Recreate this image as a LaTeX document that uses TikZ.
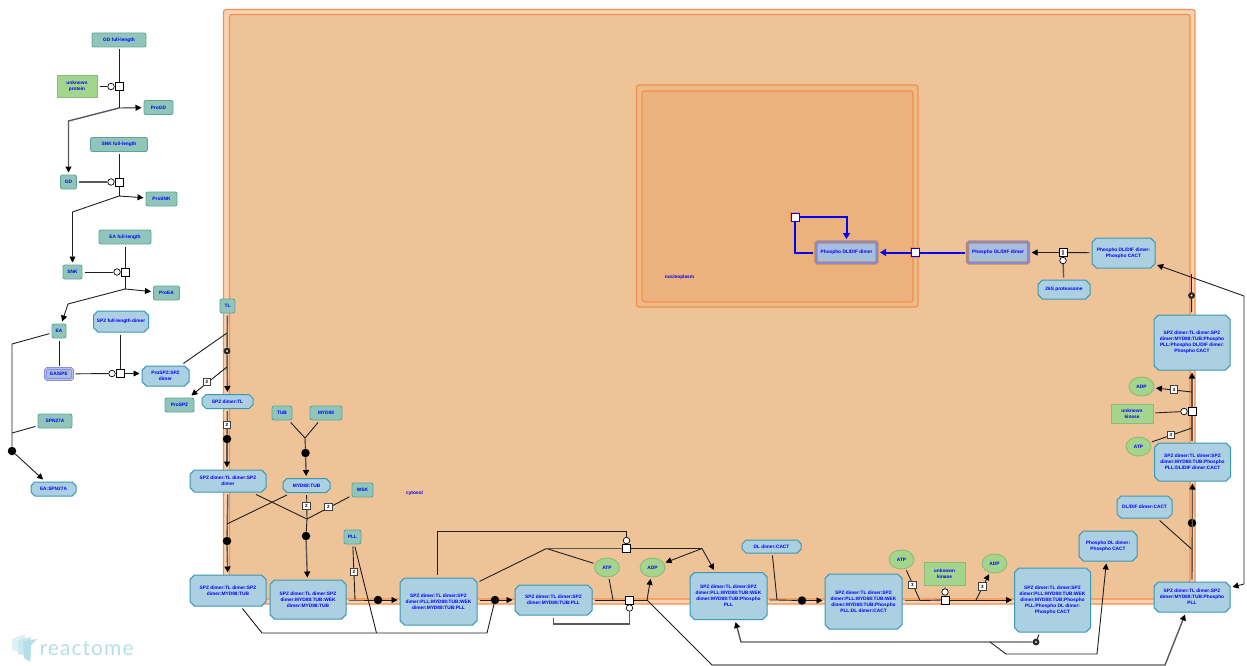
\documentclass[tikz,border=0pt]{standalone}
\usepackage{xcolor}
\usepackage{fontspec}
\setmainfont{Liberation Sans}
\newfontfamily\logofont[LetterSpace=5]{Lato}
\usetikzlibrary{arrows.meta,positioning,shapes.misc,shapes.geometric}

\definecolor{cellring}{HTML}{F5D3B3}
\definecolor{cellfill}{HTML}{EFC398}
\definecolor{nucfill}{HTML}{EBB27D}
\definecolor{compline}{HTML}{F88E4B}
\definecolor{protfill}{HTML}{8FC6B9}
\definecolor{protline}{HTML}{5FA498}
\definecolor{cplxfill}{HTML}{ABD0E2}
\definecolor{cplxline}{HTML}{3C97B2}
\definecolor{leaffill}{HTML}{A3D58D}
\definecolor{leafline}{HTML}{8DB97C}
\definecolor{setfill}{HTML}{A6BFDC}
\definecolor{setline}{HTML}{8488DE}
\definecolor{hiline}{HTML}{C98A45}
\definecolor{logoblue}{HTML}{B5DEEA}

\tikzset{
	every node/.style={font=\bfseries\fontsize{4.8}{6}\selectfont, text=blue, align=center, inner sep=0pt},
	prot/.style={draw=protline, fill=protfill, line width=0.9pt, rounded corners=2pt, outer sep=2.5pt},
	cplx/.style={chamfered rectangle, chamfered rectangle xsep=2.2pt, chamfered rectangle ysep=2.2pt, draw=cplxline, fill=cplxfill, line width=1pt, outer sep=2.5pt},
	leaf/.style={draw=leafline, fill=leaffill, line width=0.9pt, outer sep=2.5pt},
	mol/.style={ellipse, draw=leafline, fill=leaffill, line width=0.9pt, minimum width=25pt, minimum height=19pt, outer sep=2pt},
	setbox/.style={rounded corners=1.5pt, draw=setline, fill=setfill, line width=0.8pt, double=setline!55!white, double distance=1.1pt, outer sep=3pt},
	hiset/.style={setbox, draw=hiline, line width=0.8pt, double=setline, double distance=1.6pt},
	rxn/.style={rectangle, draw=black, fill=white, line width=0.8pt, minimum size=8pt},
	hirxn/.style={rectangle, draw=blue, fill=white, line width=1pt, minimum size=8pt, preaction={draw=compline, line width=2.6pt}},
	cat/.style={circle, draw=black, fill=white, line width=0.7pt, minimum size=6.5pt},
	ring/.style={circle, draw=black!85, fill=white, line width=2.2pt, minimum size=4.5pt},
	dot/.style={circle, fill=black, minimum size=8.5pt},
	stoich/.style={draw=black!75, fill=white, line width=0.8pt, minimum size=7.5pt, text=black, font=\bfseries\fontsize{4.6}{5}\selectfont},
	comp/.style={rounded corners=2.5pt, draw=compline, line width=1.2pt},
	conn/.style={draw=black!88, line width=0.9pt},
	arr/.style={conn, -{Triangle[length=6pt,width=6pt,color=black]}},
	thk/.style={draw=black!65, line width=1.4pt},
	hiconn/.style={draw=blue, line width=2pt},
	hiarr/.style={hiconn, -{Triangle[length=6pt,width=7pt]}},
}

\begin{document}
\begin{tikzpicture}[x=1pt,y=-1pt]
	\useasboundingbox (0,0) rectangle (1247,666);

	% compartments
	\draw[comp, fill=cellring] (223.5,9.5) rectangle (1195,604);
	\draw[comp, fill=cellfill] (229.5,14.5) rectangle (1190,599);
	\draw[comp, fill=nucfill!50!cellfill] (636.5,85) rectangle (918,307);
	\draw[comp, fill=nucfill] (642,91) rectangle (913,302);
	\node (cyt) at (414.5,493) {cytosol};
	\node (nuc) at (679.5,277) {nucleoplasm};

	% extracellular side
	\node[prot, minimum width=54pt, minimum height=14pt] (gdf) at (119,40) {GD full-length};
	\node[leaf, minimum width=40pt, minimum height=22pt] (unkp) at (77,86.5) {unknown\\protein};
	\node[rxn] (r1) at (119,86.5) {};
	\node[cat, left=0pt of r1] (c1) {};
	\node[prot, minimum width=29pt, minimum height=14pt] (progd) at (158.5,107.5) {ProGD};
	\node[prot, minimum width=57pt, minimum height=14pt] (snkf) at (119,144.5) {SNK full-length};
	\node[prot, minimum width=16pt, minimum height=14pt] (gd) at (68.5,182) {GD};
	\node[rxn] (r2) at (119,182) {};
	\node[cat, left=0pt of r2] (c2) {};
	\node[prot, minimum width=31pt, minimum height=14pt] (prosnk) at (161.5,199) {ProSNK};
	\node[prot, minimum width=52pt, minimum height=14pt] (eaf) at (125,237) {EA full-length};
	\node[prot, minimum width=19pt, minimum height=14pt] (snk) at (72.5,272) {SNK};
	\node[rxn] (r3) at (125,272) {};
	\node[cat, left=0pt of r3] (c3) {};
	\node[prot, minimum width=26pt, minimum height=14pt] (proea) at (166.5,293) {ProEA};
	\node[prot, minimum width=14pt, minimum height=14pt] (ea) at (59,331) {EA};
	\node[cplx, minimum width=55pt, minimum height=21pt] (spzf) at (121,321.5) {SPZ full-length dimer};
	\node[setbox, minimum width=27pt, minimum height=11pt] (easpe) at (59,374) {EA/SPE};
	\node[rxn] (r4) at (120,373.5) {};
	\node[cat, left=0pt of r4] (c4) {};
	\node[cplx, minimum width=47pt, minimum height=20pt] (prospz) at (165.5,376) {ProSPZ:SPZ\\dimer};
	\node[prot, minimum width=29pt, minimum height=14pt] (pspz) at (179.5,405) {ProSPZ};
	\node[prot, minimum width=34pt, minimum height=14pt] (spn) at (55,421) {SPN27A};
	\node[dot] (d1) at (12,451) {};
	\node[cplx, minimum width=45pt, minimum height=14pt] (easpn) at (53.5,489) {EA:SPN27A};

	% receptor complex
	\node[prot, minimum width=15pt, minimum height=14pt] (tl) at (227.5,306) {TL};
	\node[ring] (ct1) at (227,351) {};
	\node[cplx, minimum width=51pt, minimum height=14pt] (stl) at (227.5,401.5) {SPZ dimer:TL};
	\node[dot] (d2) at (227,439) {};
	\node[cplx, minimum width=76pt, minimum height=22pt] (sts) at (228,481) {SPZ dimer:TL dimer:SPZ\\dimer};
	\node[prot, minimum width=20pt, minimum height=14pt] (tub) at (282,413) {TUB};
	\node[prot, minimum width=32pt, minimum height=14pt] (myd) at (326,413) {MYD88};
	\node[dot] (d3) at (305.5,453) {};
	\node[cplx, minimum width=47pt, minimum height=14pt] (mt) at (306.5,485.5) {MYD88:TUB};
	\node[prot, minimum width=21pt, minimum height=14pt] (wsk) at (362.5,490) {WSK};
	\node[dot] (d4) at (227,541) {};
	\node[dot] (d5) at (306,536) {};
	\node[cplx, minimum width=76pt, minimum height=31pt] (stm) at (228,590.5) {SPZ dimer:TL dimer:SPZ\\dimer:MYD88:TUB};
	\node[cplx, minimum width=76pt, minimum height=39pt] (stw) at (308,599.5) {SPZ dimer:TL dimer:SPZ\\dimer:MYD88:TUB:WEK\\dimer:MYD88:TUB};
	\node[prot, minimum width=17pt, minimum height=14pt] (pll) at (352.5,537) {PLL};
	\node[dot] (d6) at (378,600) {};
	\node[cplx, minimum width=77pt, minimum height=47pt] (stp) at (438.5,601.5) {SPZ dimer:TL dimer:SPZ\\dimer:PLL:MYD88:TUB:WEK\\dimer:MYD88:TUB:PLL};
	\node[dot] (d7) at (495,600) {};
	\node[cplx, minimum width=77pt, minimum height=30pt] (smp) at (553.5,600) {SPZ dimer:TL dimer:SPZ\\dimer:MYD88:TUB:PLL};
	\node[rxn] (r5) at (626.5,548.5) {};
	\node[cat, above=0pt of r5] (c5) {};
	\node[mol] (atpa) at (607,567.5) {ATP};
	\node[mol] (adpa) at (652.5,567.5) {ADP};
	\node[rxn] (r6) at (629.5,600) {};
	\node[cat, below=0pt of r6] (c6) {};
	\node[cplx, minimum width=77pt, minimum height=47pt] (spp) at (728.5,596) {SPZ dimer:TL dimer:SPZ\\dimer:PLL:MYD88:TUB:WEK\\dimer:MYD88:TUB:Phospho\\PLL};
	\node[cplx, minimum width=59pt, minimum height=13pt] (dlc) at (771.5,546.5) {DL dimer:CACT};
	\node[dot] (d8) at (802,600.5) {};
	\node[cplx, minimum width=77pt, minimum height=55pt] (spd) at (863.5,601.5) {SPZ dimer:TL dimer:SPZ\\dimer:PLL:MYD88:TUB:WEK\\dimer:MYD88:TUB:Phospho\\PLL:DL dimer:CACT};
	\node[mol] (atpb) at (901.5,559.5) {ATP};
	\node[leaf, minimum width=41pt, minimum height=23pt] (unka) at (944.5,573.5) {unknown\\kinase};
	\node[rxn] (r7) at (945,600) {};
	\node[cat, above=0pt of r7] (c7) {};
	\node[mol] (adpb) at (994.5,563.5) {ADP};
	\node[cplx, minimum width=76pt, minimum height=64pt] (spc) at (1052.5,600) {SPZ dimer:TL dimer:SPZ\\dimer:PLL:MYD88:TUB:WEK\\dimer:MYD88:TUB:Phospho\\PLL:Phospho DL dimer:\\Phospho CACT};
	\node[ring] (ct2) at (1036,642) {};
	\node[cplx, minimum width=58pt, minimum height=30pt] (pdc) at (1108,546) {Phospho DL dimer:\\Phospho CACT};
	\node[cplx, minimum width=55pt, minimum height=22pt] (ddc) at (1144.5,507) {DL/DIF dimer:CACT};
	\node[cplx, minimum width=76pt, minimum height=30pt] (stq) at (1192,597) {SPZ dimer:TL dimer:SPZ\\dimer:MYD88:TUB:Phospho\\PLL};
	\node[dot] (d9) at (1192,523) {};
	\node[cplx, minimum width=76pt, minimum height=38pt] (std) at (1192.5,462) {SPZ dimer:TL dimer:SPZ\\dimer:MYD88:TUB:Phospho\\PLL:DL/DIF dimer:CACT};
	\node[rxn] (r8) at (1192,411.5) {};
	\node[cat, left=0pt of r8] (c8) {};
	\node[leaf, minimum width=42pt, minimum height=19pt] (unkb) at (1132,414) {unknown\\kinase};
	\node[mol] (atpc) at (1138.5,446.5) {ATP};
	\node[mol] (adpc) at (1141.5,386.5) {ADP};
	\node[cplx, minimum width=76pt, minimum height=55pt] (stc) at (1192,342.5) {SPZ dimer:TL dimer:SPZ\\dimer:MYD88:TUB:Phospho\\PLL:Phospho DL/DIF dimer:\\Phospho CACT};
	\node[ring] (ct3) at (1191.5,295.5) {};
	\node[cplx, minimum width=63pt, minimum height=30pt] (ppc) at (1123.5,253) {Phospho DL/DIF dimer:\\Phospho CACT};
	\node[rxn] (r9) at (1063,252.5) {};
	\node[cat, below=0pt of r9] (c9) {};
	\node[cplx, minimum width=52pt, minimum height=19pt] (prot26) at (1064,289.5) {26S proteasome};
	\node[hiset, minimum width=61pt, minimum height=21pt] (pdd) at (998,252.5) {Phospho DL/DIF dimer};
	\node[hirxn] (r10) at (915,252.5) {};
	\node[hiset, minimum width=61pt, minimum height=21pt] (pdn) at (846.5,252.5) {Phospho DL/DIF dimer};
	\node[hirxn] (r11) at (795,217) {};

	% free junctions
	\coordinate (j1) at (119,108);
	\coordinate (j2) at (119,196);
	\coordinate (j3) at (125,289);
	\coordinate (j4) at (12,433);
	\coordinate (j5) at (227,333);
	\coordinate (j6) at (227,367);
	\coordinate (j7) at (227,524);
	\coordinate (j8) at (305,438);
	\coordinate (j9) at (307,519);
	\coordinate (j10) at (355,600);
	\coordinate (j11) at (376.5,633);
	\coordinate (j12) at (546.5,548.5);
	\coordinate (j13) at (702,548.5);
	\coordinate (j14) at (613,600);
	\coordinate (j15) at (647,600);
	\coordinate (j16) at (777,600);
	\coordinate (j17) at (920,600.5);
	\coordinate (j18) at (976,600);
	\coordinate (j19) at (990,642);
	\coordinate (j20) at (1191.5,549);
	\coordinate (j21) at (1192,428);
	\coordinate (j22) at (1192,392);
	\coordinate (j23) at (1191.5,274);
	\coordinate (j24) at (1244,584);

	% first cascade
	\draw[conn] (gdf)--(r1);
	\draw[conn] (unkp)--(c1);
	\draw[conn] (r1)--(j1);
	\draw[arr] (j1)--(progd);
	\draw[arr, thk] (j1)--(68.5,121)--(gd);
	\draw[conn] (snkf)--(r2);
	\draw[conn, thk] (gd)--(c2);
	\draw[conn] (r2)--(j2);
	\draw[arr] (j2)--(prosnk);
	\draw[arr] (j2)--(72.5,212)--(snk);
	\draw[conn] (eaf)--(r3);
	\draw[conn] (snk)--(c3);
	\draw[conn] (r3)--(j3);
	\draw[arr] (j3)--(proea);
	\draw[arr] (j3)--(68,304)--(ea);
	\draw[conn] (ea)--(12,344)--(d1);
	\draw[conn] (spn)--(j4);
	\draw[arr] (d1)--(easpn);
	\draw[conn] (ea)--(easpe);
	\draw[conn] (easpe)--(c4);
	\draw[conn] (spzf.south -| r4)--(r4);
	\draw[arr] (r4)--(prospz.west |- r4);

	% receptor assembly
	\draw[conn, thk] (tl)--(ct1);
	\draw[conn] (prospz)--(j5);
	\draw[arr, thk] (ct1)--(stl);
	\draw[arr] (j6)--(pspz);
	\draw[conn, thk] (stl)--(d2);
	\draw[arr, thk] (d2)--(sts.north -| d2);
	\draw[conn, thk] (sts)--(d4);
	\draw[conn] (mt)--(j7);
	\draw[arr, thk] (d4)--(stm);
	\draw[conn] (tub)--(j8);
	\draw[conn] (myd)--(j8);
	\draw[conn] (j8)--(d3);
	\draw[arr, thk] (d3)--(mt);
	\draw[conn] (mt)--(j9);
	\draw[conn] (sts)--(j9);
	\draw[conn] (wsk)--(j9);
	\draw[conn] (j9)--(d5);
	\draw[arr, thk] (d5)--(stw);
	\draw[conn] (pll)--(j10);
	\draw[conn] (stw.east |- j10)--(j10)--(d6);
	\draw[arr] (d6)--(stp.west |- d6);
	\draw[conn] (pll)--(j11);
	\draw[conn] (stm)--(262,633)--(487,633)--(d7);
	\draw[conn] (stp.east |- d7)--(d7);
	\draw[arr] (d7)--(smp.west |- d7);

	% PLL phosphorylation
	\draw[conn] (437.5,575)--(437.5,531)--(626.5,531)--(c5);
	\draw[conn] (stp)--(j12);
	\draw[conn] (atpa)--(j12);
	\draw[conn, thk] (j12)--(r5);
	\draw[conn] (r5)--(j13);
	\draw[arr] (j13)--(adpa);
	\draw[arr] (j13)--(spp);
	\draw[conn] (smp.east |- r6)--(r6);
	\draw[conn] (atpa)--(j14);
	\draw[conn] (r6)--(j15);
	\draw[arr] (j15)--(adpa);
	\draw[conn, thk] (smp.south)--(553.5,624)--(629.5,624)--(c6);
	\draw[conn] (j15)--(712,665);
	\draw[arr, thk] (712,665)--(1165,665)--(stq);

	% DL dimer and kinase steps
	\draw[conn] (dlc)--(j16);
	\draw[conn] (spp.east |- j16)--(j16)--(d8);
	\draw[arr] (d8)--(spd.west |- d8);
	\draw[conn, thk] (spd.east |- j17)--(j17);
	\draw[conn] (j17)--(r7);
	\draw[conn] (atpb)--(j17);
	\draw[conn] (unka)--(c7);
	\draw[arr] (r7)--(spc.west |- r7);
	\draw[arr] (j18)--(adpb);
	\draw[conn] (spc)--(ct2);
	\draw[arr, thk] (ct2)--(741,642)--(spp);
	\draw[arr] (j19)--(1006,654)--(1097,654)--(pdc);

	% return to the receptor
	\draw[arr, thk] (stq.north -| d9)--(std);
	\draw[conn] (ddc)--(j20);
	\draw[conn, thk] (std.north -| r8)--(r8);
	\draw[arr, thk] (r8)--(stc.south -| r8);
	\draw[conn] (atpc)--(j21);
	\draw[arr] (j22)--(adpc);
	\draw[conn] (unkb)--(c8);
	\draw[conn] (stc)--(ct3);
	\draw[conn] (ct3)--(j23);
	\draw[arr] (j24)--(stq.east |- 0,587);
	\draw[arr] (j24)--(1244,296)--(ppc);

	% proteasome and import
	\draw[conn] (ppc)--(r9);
	\draw[arr] (r9)--(pdd);
	\draw[conn, thk] (prot26)--(c9);
	\draw[hiconn] (pdd)--(r10);
	\draw[hiarr] (r10)--(pdn);
	\draw[hiconn] (pdn.west |- r10)--(795,252.5)--(r11);
	\draw[hiarr] (r11)--(846.5,217)--(pdn);
	\fill[black!50] (1062,250) rectangle (1064,255);

	% stoichiometry boxes
	\node[stoich] (s1) at (207,382) {2};
	\node[stoich] (s2) at (227,425) {2};
	\node[stoich] (s3) at (306.5,506) {2};
	\node[stoich] (s4) at (328.5,507) {2};
	\node[stoich] (s5) at (354,572) {2};
	\node[stoich] (s6) at (912.5,585) {3};
	\node[stoich] (s7) at (982.5,586.5) {3};
	\node[stoich] (s8) at (1174,389.5) {3};
	\node[stoich] (s9) at (1171,435) {3};

	% logo
	\fill[logoblue!45] (12,639)--(25,634)--(25,654)--(12,650)--cycle;
	\fill[logoblue!70] (18,640)--(31,637)--(31,657)--(18,654)--cycle;
	\fill[logoblue] (23,641)--(37,639)--(31,645)--(30,662)--(24,658)--cycle;
	\node[font=\logofont\fontsize{21}{21}\selectfont, text=logoblue, anchor=base west] (logo) at (39.5,655) {reactome};
\end{tikzpicture}
\end{document}
